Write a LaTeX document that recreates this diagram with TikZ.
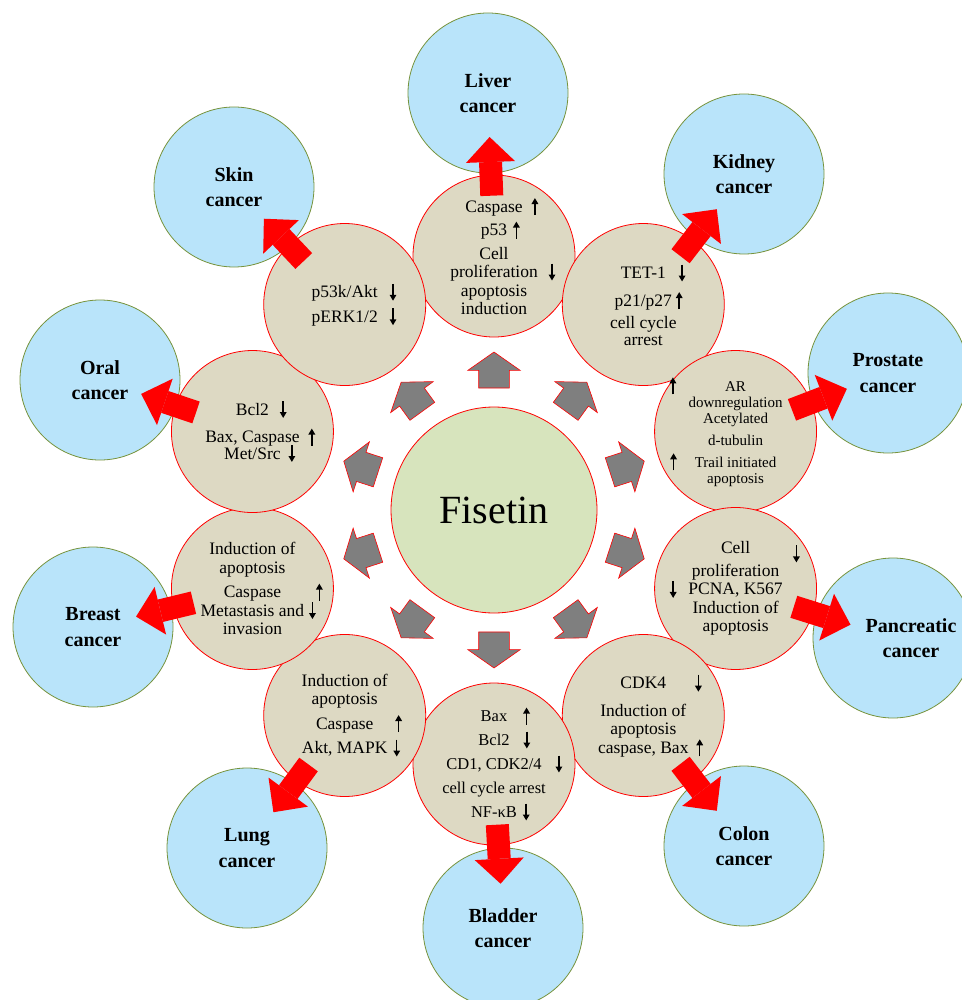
\documentclass[tikz,border=0pt]{standalone}
\usepackage{fontspec}
\setmainfont{Liberation Serif}
\usetikzlibrary{positioning,calc,shapes.arrows,arrows.meta}

\definecolor{fisgreen}{HTML}{D7E4BD}
\definecolor{tanbg}{HTML}{DDD9C3}
\definecolor{skyfill}{HTML}{B9E4FA}
\definecolor{olivedge}{HTML}{77933C}
\definecolor{spokegray}{HTML}{7F7F7F}

% small up / down marks
\newcommand{\uparr}{\tikz[baseline=0pt]\draw[line width=1.5pt,-{Triangle[length=6pt,width=6.5pt]}] (0pt,-3pt) -- (0pt,14pt);}
\newcommand{\dnarr}{\tikz[baseline=0pt]\draw[line width=1.5pt,-{Triangle[length=6pt,width=6.5pt]}] (0pt,14pt) -- (0pt,-3pt);}
\newcommand{\ua}[1][5pt]{\rlap{\hspace{#1}\uparr}}
\newcommand{\da}[1][5pt]{\rlap{\hspace{#1}\dnarr}}
\newcommand{\lua}[1][5pt]{\llap{\uparr\hspace{#1}}}
\newcommand{\lda}[1][5pt]{\llap{\dnarr\hspace{#1}}}

\begin{document}
\begin{tikzpicture}[
x=1pt, y=1pt,
fisetin/.style={
circle,
draw=red,
line width=0.8pt,
fill=fisgreen,
minimum size=206pt,
font=\fontsize{40}{48}\selectfont
},
effect/.style={
circle,
draw=red,
line width=0.8pt,
fill=tanbg,
minimum size=162pt,
inner sep=0pt,
align=center,
font=\fontsize{17.5}{18.5}\selectfont
},
cancer/.style={
circle,
draw=olivedge,
line width=0.8pt,
fill=skyfill,
minimum size=160pt,
inner sep=0pt,
align=center,
font=\bfseries\fontsize{20}{25.5}\selectfont
},
spoke/.style={
single arrow,
draw=red,
line width=0.6pt,
fill=spokegray,
minimum height=36pt,
inner xsep=0pt,
inner ysep=15pt,
single arrow head extend=11pt,
single arrow tip angle=110
},
outlet/.style={
red,
line width=23pt,
-{Triangle[length=25pt,width=49pt,line width=0pt]}
}
]

\useasboundingbox (0,0) rectangle (961,-1000);

\node[fisetin] (fis) at (494,-510) {Fisetin};

% effects around Fisetin
\node[effect] (liv) at ($(fis)+(90:254)$)
{Caspase\ua[9pt]\\[5pt] p53\ua[6pt]\\[5pt] Cell\\ proliferation\da[11pt]\\ apoptosis\\ induction};

\node[effect] (kid) at ($(fis)+(54:254)$)
{TET-1\da[13pt]\\[9pt] p21/p27\ua[4pt]\\[4pt] cell cycle\\[-2pt] arrest};

\node[effect, font=\fontsize{15}{16}\selectfont] (pro) at ($(fis)+(18:254)$)
{\lua[49pt]AR\\ downregulation\\ Acetylated\\[6pt] d-tubulin\\[6pt] \lua[18pt]Trail initiated\\ apoptosis};

\node[effect] (pan) at ($(fis)+(-18:254)$)
{Cell\rlap{\hspace{43pt}\raisebox{-6pt}{\dnarr}}\\ proliferation\\ \lda[12pt]PCNA, K567\\ Induction of\\ apoptosis};

\node[effect] (col) at ($(fis)+(-54:254)$)
{CDK4\da[29pt]\\[9pt] Induction of\\ apoptosis\\ caspase, Bax\ua[8pt]};

\node[effect, font=\fontsize{16.5}{24}\selectfont] (bla) at ($(fis)+(-90:254)$)
{Bax\ua[16pt]\\ Bcl2\da[14pt]\\ CD1, CDK2/4\da[14pt]\\ cell cycle arrest\\ NF-κB\da[6pt]};

\node[effect] (lun) at ($(fis)+(-126:254)$)
{Induction of\\ apoptosis\\[6pt] Caspase\ua[22pt]\\[6pt] Akt, MAPK\da[6pt]};

\node[effect] (bre) at ($(fis)+(-162:254)$)
{Induction of\\ apoptosis\\[6pt] Caspase\ua[35pt]\\ Metastasis and\da[5pt]\\ invasion};

\node[effect] (ora) at ($(fis)+(162:254)$)
{Bcl2\da[11pt]\\[9pt] Bax, Caspase\ua[9pt]\\[-2pt] Met/Src\da[8pt]};

\node[effect] (ski) at ($(fis)+(126:254)$)
{p53k/Akt\da[12pt]\\[6pt] pERK1/2\da[12pt]};

% cancers
\node[cancer] (livc) at (488,-93) {Liver\\cancer};
\node[cancer] (kidc) at (744,-174) {Kidney\\cancer};
\node[cancer] (proc) at (888,-373) {Prostate\\cancer};
\node[cancer] (panc) at (893,-638) {\hspace*{36pt}Pancreatic\\\hspace*{36pt}cancer};
\node[cancer] (colc) at (744,-846) {Colon\\cancer};
\node[cancer] (blac) at (503,-928) {Bladder\\cancer};
\node[cancer] (lunc) at (247,-848) {Lung\\cancer};
\node[cancer] (brec) at (93,-627) {Breast\\cancer};
\node[cancer] (orac) at (100,-380) {Oral\\cancer};
\node[cancer] (skic) at (234,-187) {Skin\\cancer};

% Fisetin spokes
\foreach \a/\n in {90/liv,54/kid,18/pro,-18/pan,-54/col,-90/bla,-126/lun,-162/bre,162/ora,126/ski}
\node[spoke, rotate=\a] at ($(fis)!0.53!(\n)$) {};

% red arrows out to the cancers
\foreach \n in {liv,kid,pro,pan,col,bla,lun,bre,ora,ski}
\draw[outlet] ($(\n)!0.37!(\n c)$) -- ($(\n)!0.73!(\n c)$);

\end{tikzpicture}
\end{document}
